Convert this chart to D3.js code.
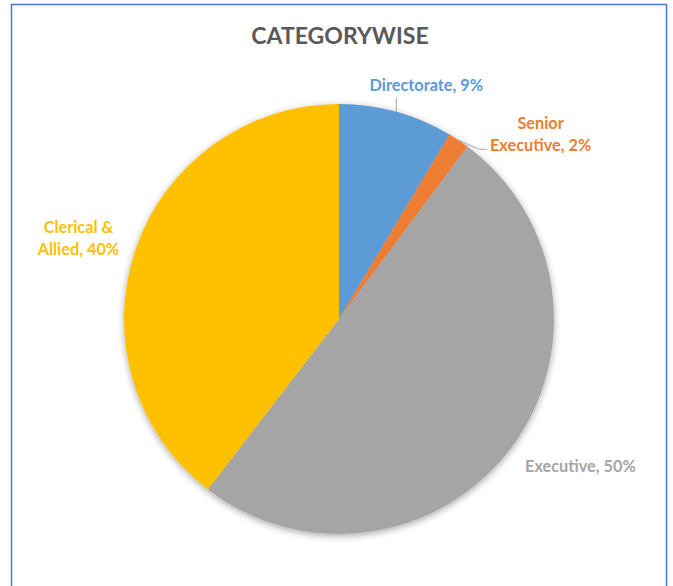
<!DOCTYPE html>
<html>
<head>
<meta charset="utf-8">
<script src="https://cdn.jsdelivr.net/npm/d3@7"></script>
<style>
  html, body { margin: 0; padding: 0; background: #fff; }
  svg { display: block; }
  text { font-family: Lato, "Open Sans", sans-serif; font-weight: bold; }
</style>
</head>
<body>
<svg id="chart" width="673" height="586"></svg>
<script>
// Staff strength by category (head counts)
const categories = ["Directorate", "Senior Executive", "Executive", "Clerical & Allied"];
const counts = [86, 16, 503, 396];
const colors = ["#5B9BD5", "#ED7D31", "#A5A5A5", "#FFC000"];
// Label text lines (percent appended from the data)
const labelLines = [["Directorate"], ["Senior", "Executive"], ["Executive"], ["Clerical &", "Allied"]];

const width = 673, height = 586;
const cx = 339, cy = 319, radius = 215;

const svg = d3.select("#chart");

// Chart frame
svg.append("rect")
  .attr("x", 11.5).attr("y", 4.5)
  .attr("width", 655).attr("height", 600)
  .attr("fill", "#fff")
  .attr("stroke", "#4a78cc").attr("stroke-width", 1.5);

svg.append("text")
  .attr("x", cx + 1).attr("y", 44)
  .attr("text-anchor", "middle")
  .attr("font-size", 23)
  .attr("fill", "#595959")
  .text("CATEGORYWISE");

// Soft shadow under the pie
const defs = svg.append("defs");
const f = defs.append("filter").attr("id", "pieShadow")
  .attr("x", "-20%").attr("y", "-20%").attr("width", "140%").attr("height", "140%");
f.append("feDropShadow").attr("dx", 0).attr("dy", 2).attr("stdDeviation", 3.5)
  .attr("flood-color", "#000").attr("flood-opacity", 0.35);

const total = d3.sum(counts);
const data = categories.map((c, i) => ({ name: c, value: counts[i], color: colors[i], lines: labelLines[i] }));
const pie = d3.pie().value(d => d.value).sort(null);
const arcs = pie(data);
const arc = d3.arc().innerRadius(0).outerRadius(radius);
const pct = v => Math.round(v / total * 100) + "%";

const g = svg.append("g").attr("transform", `translate(${cx},${cy})`);
g.append("g").attr("filter", "url(#pieShadow)")
  .selectAll("path").data(arcs).join("path")
  .attr("d", arc)
  .attr("fill", d => d.data.color);

// Point on the rim at the middle of a slice
function rimPoint(d, r) {
  const a = (d.startAngle + d.endAngle) / 2;
  return [Math.sin(a) * r, -Math.cos(a) * r];
}

// Label placement relative to each slice's rim point: [dx, dy of first baseline]
const labelOffset = [[30, -21], [82, -11], [70, 23], [-57, -17]];
const lineGap = 22;

arcs.forEach((d, i) => {
  const [px, py] = rimPoint(d, radius);
  const [ox, oy] = labelOffset[i];
  const lines = d.data.lines.slice();
  lines[lines.length - 1] += ", " + pct(d.data.value);
  const t = g.append("text")
    .attr("text-anchor", "middle")
    .attr("font-size", 16.3)
    .attr("fill", d.data.color);
  lines.forEach((ln, k) => {
    t.append("tspan").attr("x", px + ox).attr("y", py + oy + k * lineGap).text(ln);
  });
});

// Leader lines
const leader = d3.line();
{
  const [px, py] = rimPoint(arcs[0], radius);
  g.append("path").attr("d", leader([[px, py], [px, py - 14]]))
    .attr("stroke", "#a6a6a6").attr("stroke-width", 1).attr("fill", "none");
}
{
  const [px, py] = rimPoint(arcs[1], radius);
  g.append("path").attr("d", leader([[px, py], [px + 21, py + 9], [px + 28, py + 9]]))
    .attr("stroke", "#a6a6a6").attr("stroke-width", 1).attr("fill", "none");
}
</script>
</body>
</html>
